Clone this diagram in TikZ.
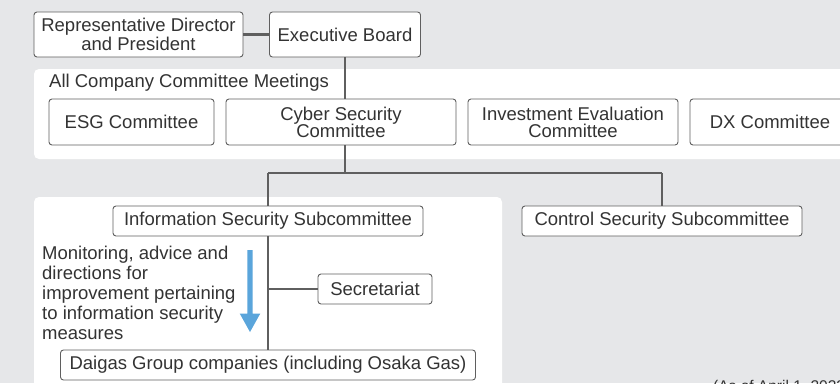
\documentclass[tikz,border=0pt]{standalone}
\usepackage{fontspec}
\setmainfont{Liberation Sans}
\definecolor{bg}{HTML}{E6E7E9}
\definecolor{ink}{HTML}{333333}
\definecolor{rule}{HTML}{5F5F5F}
\definecolor{flowblue}{HTML}{5AA5DB}
\begin{document}
\begin{tikzpicture}[x=1pt,y=-1pt,
  every node/.style={text=ink,font=\fontsize{18.5}{20}\selectfont},
  orgbox/.style={draw=rule,fill=white,rounded corners=3pt,line width=.9pt,
    align=center,inner sep=0pt},
  link/.style={draw=rule,line width=2.2pt},
  panel/.style={fill=white,rounded corners=5pt}]
\useasboundingbox[fill=bg] (0,0) rectangle (840,383);
\clip (0,0) rectangle (840,383);
% panels
\fill[panel] (34,69) rectangle (860,159);
\fill[panel] (34,197) rectangle (502,400);
% top
\node[orgbox,minimum width=209,minimum height=45] (rdp) at (138.5,34.5) {Representative Director\\[-1pt]and President};
\node[orgbox,minimum width=151,minimum height=45] (board) at (345,34.5) {Executive Board};
\node[anchor=west,inner sep=0pt] (acm) at (49,83) {All Company Committee Meetings};
% committees
\node[orgbox,minimum width=165,minimum height=46] (esg) at (131.5,122) {ESG Committee};
\node[orgbox,minimum width=230,minimum height=46] (cyber) at (341,122) {Cyber Security\\[-3pt]Committee};
\node[orgbox,minimum width=210,minimum height=46] (invest) at (573,122) {Investment Evaluation\\[-3pt]Committee};
\node[orgbox,minimum width=160,minimum height=46] (dx) at (770,122) {DX Committee};
% subcommittees
\coordinate (split) at (345,173);
\coordinate (splitL) at (268,173);
\coordinate (splitR) at (662,173);
\node[orgbox,minimum width=310,minimum height=30] (infosec) at (268,221) {Information Security Subcommittee};
\node[orgbox,minimum width=280,minimum height=30] (ctrlsec) at (662,221) {Control Security Subcommittee};
\node[orgbox,minimum width=114,minimum height=30] (secr) at (375,289) {Secretariat};
\node[orgbox,minimum width=415,minimum height=30] (daigas) at (268,365) {Daigas Group companies (including Osaka Gas)};
% links
\draw[link] (rdp.east) -- (board.west);
\draw[link] (board.south) -- (board.south |- cyber.north);
\draw[link] (board.south |- cyber.south) -- (split);
\draw[link] (splitL) -- (splitR);
\draw[link] (splitL) -- (infosec.north);
\draw[link] (splitR) -- (ctrlsec.north);
\draw[link] (infosec.south) -- (daigas.north);
\draw[link] (infosec.south |- secr.west) -- (secr.west);
% arrow and note
\fill[flowblue] (247.3,250) -- (252.7,250) -- (252.7,313.5) -- (260.3,313.5)
  -- (250,332) -- (239.7,313.5) -- (247.3,313.5) -- cycle;
\node[anchor=north west,inner sep=0pt,align=left] (note) at (42,246)
  {Monitoring, advice and\\directions for\\improvement pertaining\\to information security\\measures};
\node[anchor=base west,inner sep=0pt,font=\fontsize{15.5}{18}\selectfont] (asof) at (713,391) {(As of April 1, 2023)};
\end{tikzpicture}
\end{document}
